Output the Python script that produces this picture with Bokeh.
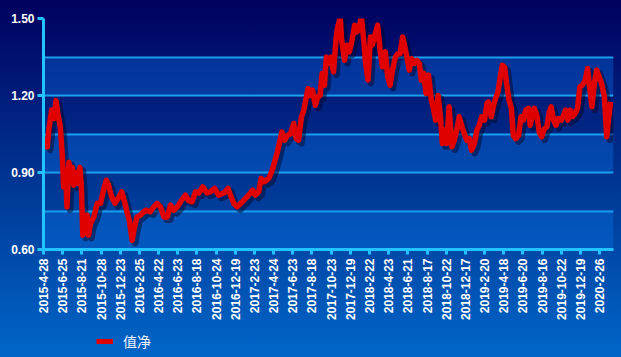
from math import pi
from bokeh.plotting import figure
from bokeh.layouts import column
from bokeh.models import (Range1d, FixedTicker, BoxAnnotation, Legend, LegendItem)
from bokeh.core.properties import value
from bokeh.embed import file_html
from bokeh.resources import INLINE

# ---- data (trading-day index, net asset value) ----
day_index = [0, 5, 8, 11, 17, 22, 26, 30, 35, 39, 42, 46, 49, 53, 56, 60, 63, 68, 72, 76,
             79, 82, 86, 91, 94, 98, 105, 112, 119, 126, 131, 136, 142, 149, 156, 163, 170, 174, 179, 185,
             190, 195, 202, 213, 223, 230, 237, 244, 251, 258, 265, 272, 279, 286, 296, 303, 310, 317, 324, 332,
             341, 348, 357, 365, 376, 385, 390, 397, 404, 411, 418, 428, 436, 442, 449, 454, 461, 470, 477, 482,
             487, 492, 497, 503, 509, 515, 522, 527, 532, 538, 543, 547, 552, 557, 561, 567, 572, 577, 581, 586,
             590, 595, 600, 605, 610, 613, 619, 622, 628, 633, 638, 643, 649, 654, 659, 663, 668, 672, 677, 682,
             686, 692, 697, 702, 707, 713, 718, 723, 728, 734, 739, 744, 749, 753, 758, 763, 768, 774, 779, 784,
             788, 793, 798, 803, 809, 814, 818, 823, 828, 832, 837, 841, 846, 852, 857, 862, 867, 873, 878, 883,
             888, 893, 899, 904, 909, 914, 920, 925, 928, 934, 939, 943, 948, 953, 957, 962, 966, 971, 976, 980,
             985, 991, 996, 1001, 1006, 1012, 1015, 1020, 1024, 1029, 1034, 1039, 1045, 1050, 1055, 1059, 1064, 1069, 1074, 1080,
             1085, 1089, 1094, 1099, 1103, 1109, 1114, 1119, 1124, 1130, 1135, 1139, 1144, 1149, 1154, 1159, 1164, 1170, 1175, 1178,
             1183]

nav = [1.035, 1.01, 1.00, 1.065, 1.143, 1.11, 1.18, 1.13, 1.078, 0.975, 0.844, 0.91, 0.766, 0.94, 0.883, 0.92, 0.85, 0.90, 0.858, 0.92,
       0.844, 0.656, 0.688, 0.734, 0.656, 0.70, 0.727, 0.78, 0.78, 0.838, 0.87, 0.85, 0.805, 0.78, 0.80, 0.825, 0.78, 0.747, 0.714, 0.636,
       0.688, 0.727, 0.734, 0.753, 0.747, 0.766, 0.78, 0.766, 0.727, 0.727, 0.773, 0.753, 0.766, 0.786, 0.812, 0.79, 0.786, 0.825, 0.82, 0.844,
       0.82, 0.825, 0.838, 0.812, 0.82, 0.838, 0.812, 0.779, 0.766, 0.779, 0.792, 0.812, 0.831, 0.812, 0.825, 0.877, 0.864, 0.877, 0.909, 0.941,
       0.974, 1.013, 1.058, 1.026, 1.045, 1.05, 1.091, 1.032, 1.026, 1.117, 1.143, 1.182, 1.227, 1.20, 1.221, 1.162, 1.195, 1.20, 1.286, 1.24,
       1.35, 1.325, 1.35, 1.292, 1.415, 1.46, 1.505, 1.415, 1.337, 1.396, 1.37, 1.409, 1.474, 1.448, 1.467, 1.506, 1.415, 1.325, 1.26, 1.428,
       1.396, 1.44, 1.474, 1.377, 1.312, 1.37, 1.273, 1.24, 1.299, 1.35, 1.363, 1.363, 1.428, 1.396, 1.35, 1.299, 1.343, 1.325, 1.337, 1.325,
       1.26, 1.286, 1.208, 1.28, 1.182, 1.143, 1.104, 1.20, 1.117, 1.013, 1.065, 1.013, 1.156, 1.0, 1.026, 1.065, 1.117, 1.078, 1.05, 1.026,
       1.032, 0.987, 1.013, 1.065, 1.084, 1.117, 1.104, 1.169, 1.175, 1.117, 1.162, 1.188, 1.214, 1.273, 1.318, 1.31, 1.247, 1.182, 1.15, 1.045,
       1.032, 1.045, 1.117, 1.104, 1.143, 1.15, 1.084, 1.123, 1.15, 1.123, 1.058, 1.039, 1.071, 1.078, 1.136, 1.156, 1.104, 1.084, 1.11, 1.104,
       1.123, 1.143, 1.104, 1.143, 1.117, 1.13, 1.15, 1.234, 1.24, 1.26, 1.305, 1.234, 1.156, 1.247, 1.299, 1.273, 1.247, 1.195, 1.039, 1.097,
       1.175]

tick_days = [0, 40, 80, 120, 160, 200, 240, 280, 320, 360, 400, 440, 480, 520, 560,
             600, 640, 680, 720, 760, 800, 840, 880, 920, 960, 1000, 1040, 1080, 1120, 1160]
tick_labels = ["2015-4-28", "2015-6-25", "2015-8-21", "2015-10-28", "2015-12-23",
               "2016-2-25", "2016-4-22", "2016-6-23", "2016-8-18", "2016-10-24",
               "2016-12-19", "2017-2-23", "2017-4-24", "2017-6-23", "2017-8-18",
               "2017-10-23", "2017-12-19", "2018-2-22", "2018-4-23", "2018-6-21",
               "2018-8-17", "2018-10-22", "2018-12-17", "2019-2-20", "2019-4-18",
               "2019-6-20", "2019-8-16", "2019-10-22", "2019-12-19", "2020-2-26"]
y_labels = [0.60, 0.90, 1.20, 1.50]
y_grid = [0.75, 0.90, 1.05, 1.20, 1.35, 1.50]
bands = [(0.60, 0.75), (0.90, 1.05), (1.20, 1.35)]
series_name = "值净"

X_MAX = 1189
p = figure(width=621, height=330, output_backend="svg", toolbar_location=None,
           x_range=Range1d(0, X_MAX), y_range=Range1d(0.60, 1.50),
           min_border_left=43, min_border_right=8, min_border_top=18, min_border_bottom=81)
p.background_fill_alpha = 0
p.border_fill_alpha = 0
p.outline_line_color = None

for lo, hi in bands:
    p.add_layout(BoxAnnotation(bottom=lo, top=hi, fill_color="#0a7cf4", fill_alpha=0.32,
                               line_color=None, level="underlay"))

# shadow of the line via slightly shifted ranges
dx = 3 * X_MAX / 570.0
dy = 3 * 0.9 / 231.0
p.extra_x_ranges = {"sx": Range1d(-dx, X_MAX - dx)}
p.extra_y_ranges = {"sy": Range1d(0.60 + dy, 1.50 + dy)}
p.line(day_index, nav, x_range_name="sx", y_range_name="sy", line_color="#000828",
       line_alpha=0.5, line_width=6.5, line_join="round")
main = p.line(day_index, nav, line_color="#e00000", line_width=5.5, line_join="round")

axis_col = "#22c4ff"
for ax in (p.xaxis[0], p.yaxis[0]):
    ax.axis_line_color = axis_col
    ax.axis_line_width = 3
    ax.major_tick_line_color = axis_col
    ax.major_tick_line_width = 3
    ax.major_tick_in = 0
    ax.minor_tick_line_color = None
    ax.major_label_text_color = "white"
    ax.major_label_text_font = "Liberation Sans"
    ax.major_label_text_font_style = "bold"
    ax.major_label_text_font_size = "12px"

p.xaxis.ticker = FixedTicker(ticks=tick_days)
p.xaxis.major_label_overrides = {d: l for d, l in zip(tick_days, tick_labels)}
p.xaxis.major_label_orientation = pi / 2
p.xaxis.major_tick_out = 5
p.xaxis.major_label_standoff = 4

p.yaxis.ticker = FixedTicker(ticks=y_labels)
p.yaxis.major_label_overrides = {v: f"{v:.2f}" for v in y_labels}
p.yaxis.major_tick_out = 6
p.yaxis.major_label_standoff = 3

p.xgrid.visible = False
p.ygrid.ticker = FixedTicker(ticks=y_grid)
p.ygrid.grid_line_color = "#1ea8ee"
p.ygrid.grid_line_width = 2

# ---- legend strip below the chart ----
lg = figure(width=621, height=27, output_backend="svg", toolbar_location=None,
            x_range=Range1d(0, 1), y_range=Range1d(10, 11),
            x_axis_location=None, y_axis_location=None,
            min_border_left=0, min_border_right=0, min_border_top=0, min_border_bottom=0)
lg.background_fill_alpha = 0
lg.border_fill_alpha = 0
lg.outline_line_color = None
lg.grid.visible = False
key = lg.line(day_index, nav, line_color="#e00000", line_width=5)
legend = Legend(items=[LegendItem(label=value(series_name), renderers=[key])],
                location=(53, 6), background_fill_alpha=0, border_line_color=None,
                label_text_color="#eef2ff", label_text_font="Noto Sans CJK SC",
                label_text_font_size="14px", glyph_width=17, glyph_height=20,
                label_height=20, label_standoff=10, padding=0, margin=0)
lg.add_layout(legend)

page = column(p, lg, spacing=0)
page.styles = {"background": "linear-gradient(to bottom, #00005e 0%, #003a98 55%, #0066c8 100%)"}

open("out.html", "w").write(file_html(page, INLINE))
